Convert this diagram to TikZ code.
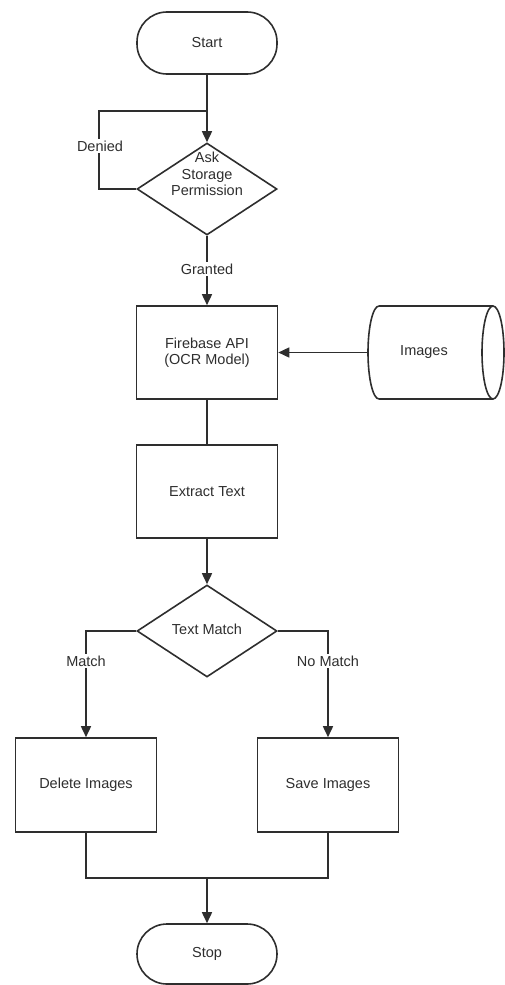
\documentclass[tikz,border=0pt]{standalone}
\usepackage{fontspec}
\setmainfont{Liberation Sans}
\usetikzlibrary{shapes.geometric,arrows.meta}
\definecolor{ink}{HTML}{2E2E2E}
\tikzset{
  every node/.style={font=\fontsize{14.5}{16.5}\selectfont, text=ink},
  line/.style={draw=ink, line width=1.6pt},
  flow/.style={line, -{Triangle[length=11pt,width=10pt]}},
  terminal/.style={line, rectangle, rounded corners=30pt, minimum width=140pt, minimum height=62pt, inner sep=0pt},
  procbox/.style={line, rectangle, minimum width=141pt, minimum height=93pt, inner sep=0pt, align=center},
  decision/.style={line, diamond, minimum width=140pt, minimum height=92pt, inner sep=0pt},
  tag/.style={fill=white, inner sep=1.5pt}
}
\begin{document}
\begin{tikzpicture}[x=1pt,y=-1pt]
  \useasboundingbox (0,0) rectangle (505,985);

  % nodes
  \node[terminal] (start) at (207,43) {Start};
  \node[decision] (ask) at (207,189) {};
  \node[align=center, inner sep=0pt] (asktext) at (207,174) {Ask\\Storage\\Permission};
  \node[procbox] (api) at (207,352.5) {Firebase API\\(OCR Model)};
  \node[procbox] (extract) at (207,491.5) {Extract Text};
  \node[decision] (match) at (207,631) {};
  \node[inner sep=0pt] (matchtext) at (207,629) {Text Match};
  \node[procbox, minimum height=94pt] (delete) at (86,785) {Delete Images};
  \node[procbox, minimum height=94pt] (save) at (328,785) {Save Images};
  \node[terminal, minimum height=60pt] (stop) at (207,954) {Stop};

  % image store: horizontal cylinder, open end on the right
  \draw[line] (379,306) -- (493,306)
              (379,399) -- (493,399)
              (379,399) arc[start angle=90, end angle=270, x radius=11, y radius=46.5]
              (493,352.5) ellipse[x radius=11, y radius=46.5];
  \node (images) at (424,352.5) {Images};
  \coordinate (imagesin) at (368,352.5);

  \coordinate (loop) at (207,111);
  \coordinate (merge) at (207,878);

  % connectors
  \draw[flow] (start.south) -- (ask.north);
  \draw[line] (ask.west) -| (99,111) -- (loop);
  \node[tag] (denied) at (100,146) {Denied};
  \draw[flow] (ask.south) -- (api.north);
  \node[tag] (granted) at (207,269) {Granted};
  \draw[flow] (imagesin) -- (api.east);
  \draw[line] (api.south) -- (extract.north);
  \draw[flow] (extract.south) -- (match.north);
  \draw[flow] (match.west) -| (delete.north);
  \draw[flow] (match.east) -| (save.north);
  \node[tag] (yes) at (86,661) {Match};
  \node[tag] (no) at (328,661) {No Match};
  \draw[line] (delete.south) |- (merge);
  \draw[line] (save.south) |- (merge);
  \draw[flow] (merge) -- (stop.north);
\end{tikzpicture}
\end{document}
